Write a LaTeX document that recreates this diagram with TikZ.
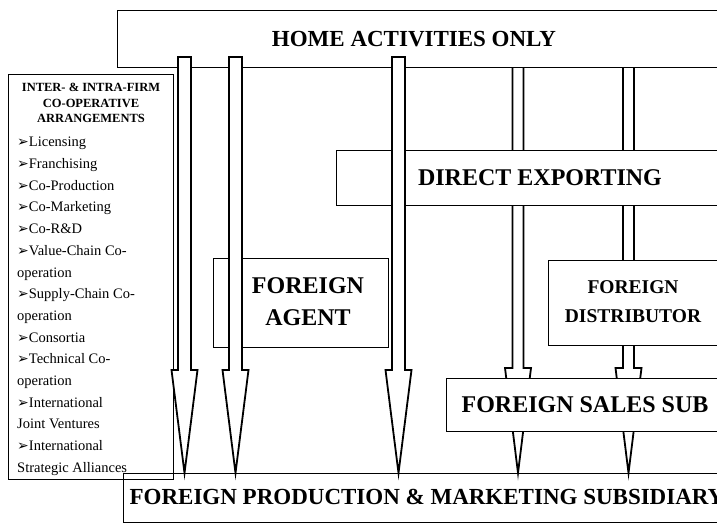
\documentclass[tikz,border=0pt]{standalone}
\usepackage{fontspec}
\setmainfont{Liberation Serif}
\newfontfamily\symfont{DejaVu Sans}

\tikzset{
  box/.style={draw, fill=white, line width=1.4pt, inner sep=0pt},
  bigtxt/.style={font=\fontsize{24}{32}\selectfont\bfseries, align=center, inner sep=0pt},
  arrowline/.style={draw, fill=white, line width=1.8pt, line join=miter},
}
% hollow block arrow: [shaft half width] x, top, start of head; tip on prod
\newcommand{\blockarrow}[4][6.5]{%
  \draw[arrowline] (#2-#1,#3) -- (#2+#1,#3) -- (#2+#1,#4) -- (#2+13,#4)
    -- (#2,0 |- prod.north) -- (#2-13,#4) -- (#2-#1,#4) -- cycle;}
\newcommand{\itm}{{\symfont\fontsize{14}{0}\selectfont ➢}}

\begin{document}
\begin{tikzpicture}[x=1pt, y=-1pt]
    \useasboundingbox (0,0) rectangle (717,524);
    \clip (0,0) rectangle (717,524);

    \node[box, anchor=north west, minimum width=620pt, minimum height=49pt] (prod) at (123,473) {};
    \node[bigtxt, font=\fontsize{23}{28}\selectfont\bfseries] (prodtxt) at (427,497) {FOREIGN PRODUCTION \& MARKETING SUBSIDIARY};

    % these two run under the boxes
    \blockarrow[5.5]{518}{60}{368}
    \blockarrow[5.5]{628.5}{60}{368}

    \node[box, anchor=north west, minimum width=630pt, minimum height=57pt] (home) at (117,10) {};
    \node[bigtxt, font=\fontsize{23}{28}\selectfont\bfseries] (hometxt) at (414,39) {HOME ACTIVITIES ONLY};

    \node[box, anchor=north west, minimum width=410pt, minimum height=55pt] (direx) at (336,150) {};
    \node[bigtxt] (direxttxt) at (540,178) {DIRECT EXPORTING};

    \node[box, anchor=north west, minimum width=200pt, minimum height=85pt] (distr) at (548,260) {};
    \node[bigtxt, font=\fontsize{19.5}{29}\selectfont\bfseries] (distrtxt) at (633,302) {FOREIGN\\DISTRIBUTOR};

    \node[box, anchor=north west, minimum width=300pt, minimum height=53pt] (sales) at (446,378) {};
    \node[bigtxt] (salestxt) at (585,404.5) {FOREIGN SALES SUB};

    \node[box, anchor=north west, minimum width=175pt, minimum height=89pt] (agent) at (213,258) {};
    \node[bigtxt, font=\fontsize{24}{32}\selectfont\bfseries] (agenttxt) at (308,302) {FOREIGN\\AGENT};

    \node[box, fill=none, anchor=north west, minimum width=165pt, minimum height=405pt] (coop) at (8,74) {};
    \node[font=\fontsize{12.5}{15.5}\selectfont\bfseries, align=center, inner sep=0pt] (coophead) at (91,103)
        {INTER- \& INTRA-FIRM\\CO-OPERATIVE\\ARRANGEMENTS};
    \node[font=\fontsize{14.5}{21.7}\selectfont, align=left, inner sep=0pt, anchor=north west] (cooplist) at (17,137)
        {\itm Licensing\\ \itm Franchising\\ \itm Co-Production\\ \itm Co-Marketing\\ \itm Co-R\&D\\
         \itm Value-Chain Co-\\ operation\\ \itm Supply-Chain Co-\\ operation\\ \itm Consortia\\
         \itm Technical Co-\\ operation\\ \itm International\\ Joint Ventures\\ \itm International\\
         Strategic Alliances};

    % these three lie over the boxes
    \blockarrow{184.5}{57}{370}
    \blockarrow{235.5}{57}{370}
    \blockarrow{398.5}{57}{370}
\end{tikzpicture}
\end{document}
